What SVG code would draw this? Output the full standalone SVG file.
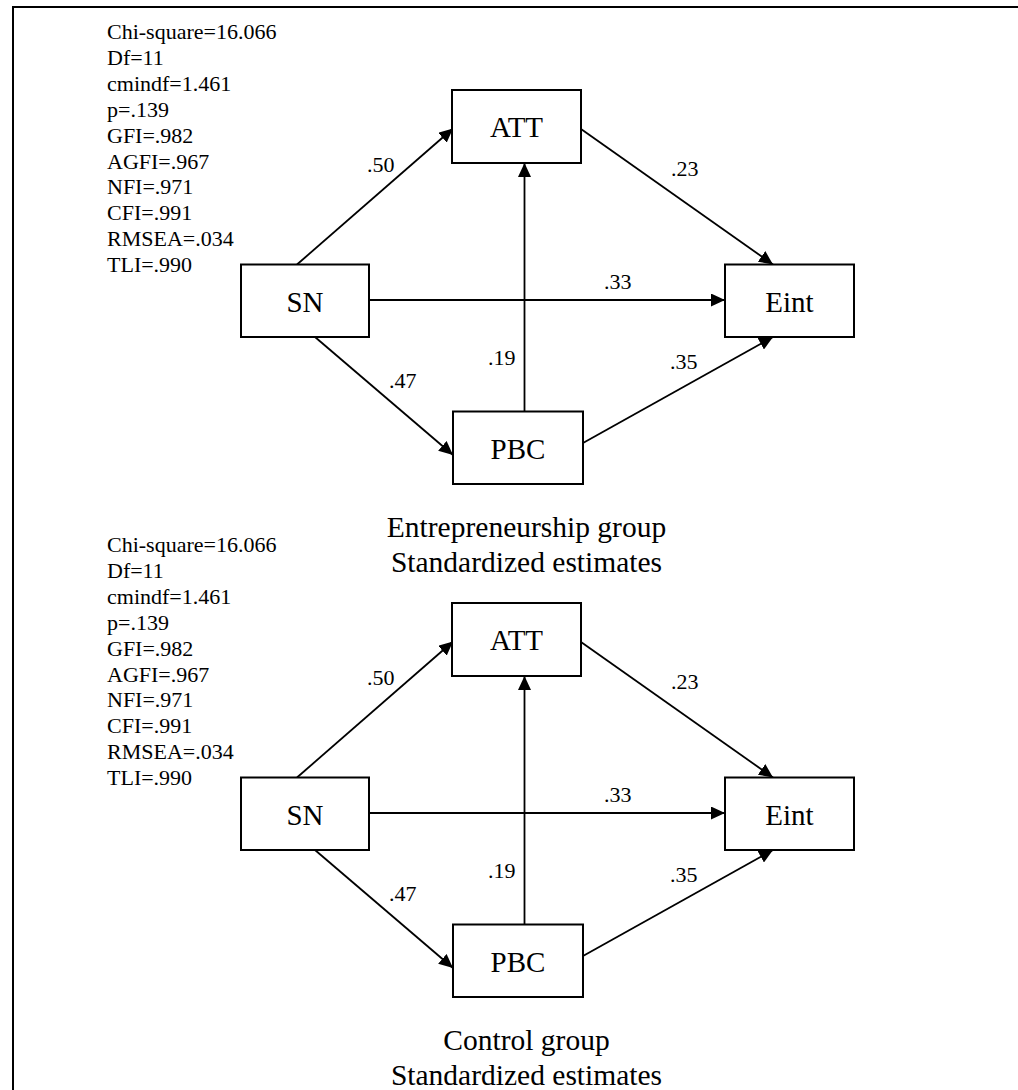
<svg xmlns="http://www.w3.org/2000/svg" width="1018" height="1090" viewBox="0 0 1018 1090" font-family="'Liberation Serif', 'Times New Roman', serif">
  <style>
    text { font-family: 'Liberation Serif', 'Times New Roman', serif; fill: #000; }
    .stat { font-size: 22px; }
    .coef { font-size: 22px; }
    .name { font-size: 29px; text-anchor: middle; }
    .cap { font-size: 29.5px; text-anchor: middle; }
    .box { fill: #fff; stroke: #000; stroke-width: 2; }
    .edge { fill: none; stroke: #000; stroke-width: 1.8; marker-end: url(#arrow); }
    .frame { fill: none; stroke: #000; stroke-width: 2; }
  </style>
  <defs>
    <marker id="arrow" markerUnits="userSpaceOnUse" markerWidth="15" markerHeight="13" refX="14" refY="6.5" orient="auto">
      <path d="M0,0 L14,6.5 L0,13 Z" fill="#000"/>
    </marker>
  </defs>

  <rect width="1018" height="1090" fill="#fff"/>
  <!-- page frame: top and left edges -->
  <path class="frame" d="M13,1090 V7 H1018"/>

  <!-- ===== Entrepreneurship group ===== -->
  <g id="model-entrepreneurship">
    <text class="stat" x="107" y="39">
      <tspan x="107">Chi-square=16.066</tspan>
      <tspan x="107" dy="25.9">Df=11</tspan>
      <tspan x="107" dy="25.9">cmindf=1.461</tspan>
      <tspan x="107" dy="25.9">p=.139</tspan>
      <tspan x="107" dy="25.9">GFI=.982</tspan>
      <tspan x="107" dy="25.9">AGFI=.967</tspan>
      <tspan x="107" dy="25.9">NFI=.971</tspan>
      <tspan x="107" dy="25.9">CFI=.991</tspan>
      <tspan x="107" dy="25.9">RMSEA=.034</tspan>
      <tspan x="107" dy="25.9">TLI=.990</tspan>
    </text>

    <g id="e-connectors">
      <line class="edge" x1="297" y1="264.5" x2="453" y2="128.5"/>
      <line class="edge" x1="581" y1="129" x2="773" y2="264.5"/>
      <line class="edge" x1="369" y1="300" x2="725" y2="300"/>
      <line class="edge" x1="524.5" y1="411.5" x2="524.5" y2="163"/>
      <line class="edge" x1="315" y1="337" x2="453" y2="455"/>
      <line class="edge" x1="583" y1="443" x2="773" y2="337"/>
      <text class="coef" x="367" y="172">.50</text>
      <text class="coef" x="671" y="176">.23</text>
      <text class="coef" x="604" y="289">.33</text>
      <text class="coef" x="488" y="365">.19</text>
      <text class="coef" x="389" y="388">.47</text>
      <text class="coef" x="670" y="369">.35</text>
    </g>

    <g id="e-att">
      <rect class="box" x="452" y="90" width="129" height="73"/>
      <text class="name" x="516.5" y="137">ATT</text>
    </g>
    <g id="e-sn">
      <rect class="box" x="241" y="264.5" width="128" height="72.5"/>
      <text class="name" x="305" y="311.5">SN</text>
    </g>
    <g id="e-eint">
      <rect class="box" x="725" y="264.5" width="129" height="72.5"/>
      <text class="name" x="789.5" y="311.5">Eint</text>
    </g>
    <g id="e-pbc">
      <rect class="box" x="453" y="411.5" width="130" height="72.5"/>
      <text class="name" x="518" y="458.5">PBC</text>
    </g>

    <text class="cap" x="526.5" y="537">Entrepreneurship group</text>
    <text class="cap" x="526.5" y="572">Standardized estimates</text>
  </g>

  <!-- ===== Control group (same layout, shifted down) ===== -->
  <g id="model-control" transform="translate(0,513)">
    <text class="stat" x="107" y="39">
      <tspan x="107">Chi-square=16.066</tspan>
      <tspan x="107" dy="25.9">Df=11</tspan>
      <tspan x="107" dy="25.9">cmindf=1.461</tspan>
      <tspan x="107" dy="25.9">p=.139</tspan>
      <tspan x="107" dy="25.9">GFI=.982</tspan>
      <tspan x="107" dy="25.9">AGFI=.967</tspan>
      <tspan x="107" dy="25.9">NFI=.971</tspan>
      <tspan x="107" dy="25.9">CFI=.991</tspan>
      <tspan x="107" dy="25.9">RMSEA=.034</tspan>
      <tspan x="107" dy="25.9">TLI=.990</tspan>
    </text>

    <g id="c-connectors">
      <line class="edge" x1="297" y1="264.5" x2="453" y2="128.5"/>
      <line class="edge" x1="581" y1="129" x2="773" y2="264.5"/>
      <line class="edge" x1="369" y1="300" x2="725" y2="300"/>
      <line class="edge" x1="524.5" y1="411.5" x2="524.5" y2="163"/>
      <line class="edge" x1="315" y1="337" x2="453" y2="455"/>
      <line class="edge" x1="583" y1="443" x2="773" y2="337"/>
      <text class="coef" x="367" y="172">.50</text>
      <text class="coef" x="671" y="176">.23</text>
      <text class="coef" x="604" y="289">.33</text>
      <text class="coef" x="488" y="365">.19</text>
      <text class="coef" x="389" y="388">.47</text>
      <text class="coef" x="670" y="369">.35</text>
    </g>

    <g id="c-att">
      <rect class="box" x="452" y="90" width="129" height="73"/>
      <text class="name" x="516.5" y="137">ATT</text>
    </g>
    <g id="c-sn">
      <rect class="box" x="241" y="264.5" width="128" height="72.5"/>
      <text class="name" x="305" y="311.5">SN</text>
    </g>
    <g id="c-eint">
      <rect class="box" x="725" y="264.5" width="129" height="72.5"/>
      <text class="name" x="789.5" y="311.5">Eint</text>
    </g>
    <g id="c-pbc">
      <rect class="box" x="453" y="411.5" width="130" height="72.5"/>
      <text class="name" x="518" y="458.5">PBC</text>
    </g>

    <text class="cap" x="526.5" y="537">Control group</text>
    <text class="cap" x="526.5" y="572">Standardized estimates</text>
  </g>
</svg>
